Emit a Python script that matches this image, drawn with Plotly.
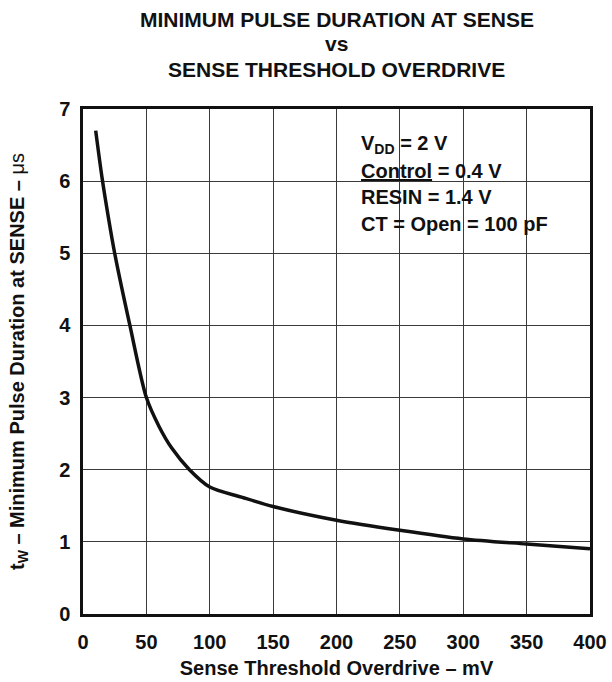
import plotly.graph_objects as go

overdrive_mv = [10, 15, 20, 25, 37, 50, 60, 70, 84, 100, 125, 150, 200, 250, 300, 350, 400]
pulse_us = [6.7, 6.05, 5.5, 5.0, 4.0, 3.0, 2.6, 2.3, 2.0, 1.76, 1.62, 1.49, 1.30, 1.16, 1.04, 0.97, 0.905]

x_ticks = [0, 50, 100, 150, 200, 250, 300, 350, 400]
y_ticks = [0, 1, 2, 3, 4, 5, 6, 7]

title_lines = ["MINIMUM PULSE DURATION AT SENSE", "vs", "SENSE THRESHOLD OVERDRIVE"]
conditions = ["V<sub>DD</sub> = 2 V",
              "<span style='text-decoration:underline'>Control</span> = 0.4 V",
              "RESIN = 1.4 V",
              "CT = Open = 100 pF"]

FONT = "Liberation Sans, Arial, Helvetica, sans-serif"
INK = "#111111"

# plot-area geometry in page pixels (for placing text only)
L, R, T, B = 83, 590, 109, 614
W, H = 612, 682
PW, PH = R - L, B - T


def py(p):
    return 1 - (p - T) / PH


def px(p):
    return (p - L) / PW


fig = go.Figure()
fig.add_trace(go.Scatter(
    x=overdrive_mv, y=pulse_us, mode="lines",
    line=dict(color=INK, width=3.5, shape="spline", smoothing=0.8),
    showlegend=False, hoverinfo="skip",
))

axis_common = dict(
    showgrid=True, gridcolor="#3a3a3a", gridwidth=1,
    showline=True, linecolor=INK, linewidth=2.5, mirror=True,
    zeroline=False, ticks="", automargin=False,
    tickfont=dict(family=FONT, size=20, color=INK),
)

fig.update_layout(
    width=W, height=H,
    margin=dict(l=L, r=W - R, t=T, b=H - B),
    paper_bgcolor="white", plot_bgcolor="white",
    font=dict(family=FONT, color=INK),
    xaxis=dict(
        range=[0, 400], tickvals=x_ticks, ticktext=[f"<b>{v}</b>" for v in x_ticks],
        ticklabelstandoff=8,
        title=dict(text="<b>Sense Threshold Overdrive – mV</b>", font=dict(family=FONT, size=20), standoff=10),
        **axis_common,
    ),
    yaxis=dict(
        range=[0, 7], tickvals=y_ticks, ticktext=[f"<b>{v}</b>" for v in y_ticks],
        ticklabelstandoff=6,
        title=dict(text="<b>t<sub>W</sub> – Minimum Pulse Duration at SENSE – </b>μs",
                   font=dict(family=FONT, size=20), standoff=30),
        **axis_common,
    ),
)

title_centers = [19, 44, 70]
for line, yc in zip(title_lines, title_centers):
    fig.add_annotation(
        xref="paper", yref="paper", x=0.5, y=py(yc), xanchor="center", yanchor="middle",
        text=f"<b>{line}</b>", showarrow=False, font=dict(family=FONT, size=21, color=INK),
    )

cond_centers = [145, 171, 197, 224]
for line, yc in zip(conditions, cond_centers):
    fig.add_annotation(
        xref="paper", yref="paper", x=px(359), y=py(yc), xanchor="left", yanchor="middle",
        text=f"<b>{line}</b>", showarrow=False, align="left",
        font=dict(family=FONT, size=20, color=INK),
    )

fig.write_html("out.html", config={"displayModeBar": False},
               post_script="document.body.style.margin='0';")
